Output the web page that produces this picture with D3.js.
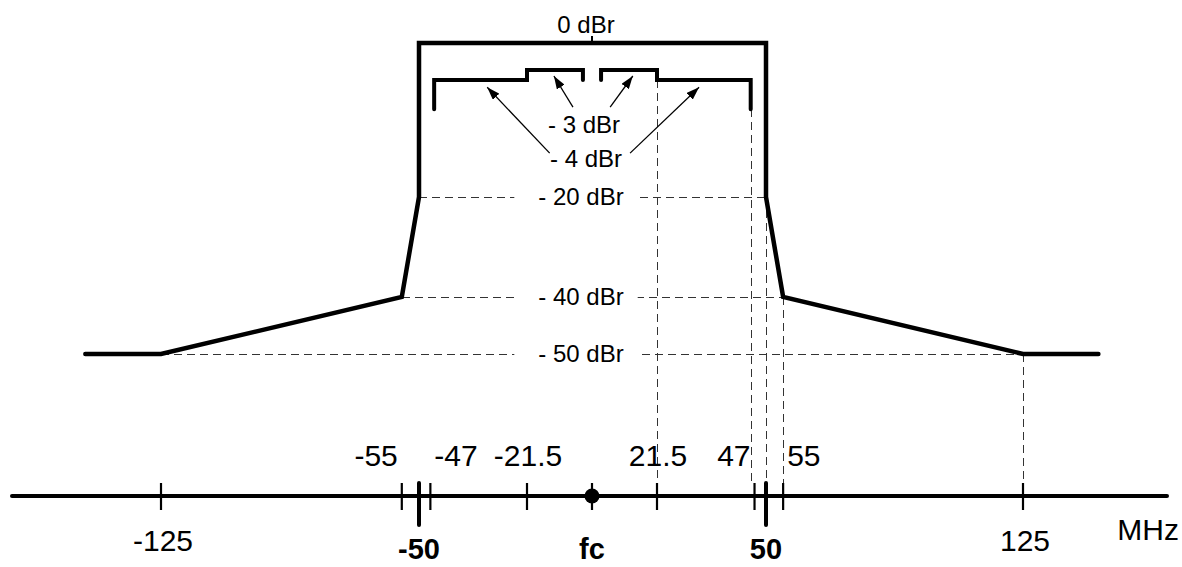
<!DOCTYPE html>
<html>
<head>
<meta charset="utf-8">
<script src="https://cdn.jsdelivr.net/npm/d3@7"></script>
<style>
  body { margin: 0; background: #fff; }
  svg { display: block; font-family: "Liberation Sans", Arial, sans-serif; }
</style>
</head>
<body>
<div id="chart"></div>
<script>
const width = 1182;
const height = 567;

// spectrum mask, [MHz, dBr]
const maskPoints = [[-147, -50], [-125, -50], [-55, -40], [-50, -20], [-50, 0],
  [50, 0], [50, -20], [55, -40], [125, -50], [147, -50]];
// inner flatness limits, [MHz, dBr]
const flatLeft = [[-46, -8], [-46, -4], [-21.5, -4], [-21.5, -3], [-3, -3], [-3, -4]];
const flatRight = [[3, -4], [3, -3], [21.5, -3], [21.5, -4], [46, -4], [46, -8]];

const levelLines = [
  { db: -20, from: -50, to: 50, label: "- 20 dBr" },
  { db: -40, from: -55, to: 55, label: "- 40 dBr" },
  { db: -50, from: -125, to: 125, label: "- 50 dBr" }
];
// dashed drops to the axis, [MHz, dBr]
const dropLines = [[21.5, -4], [46, -8], [50, -20], [55, -40], [125, -50]];

// arrows from labels to the limits, tail -> head in [MHz, dBr]
const arrows = [
  { from: [-14, -14], to: [-32, -5] },
  { from: [-6.3, -7.7], to: [-12.6, -3.6] },
  { from: [6, -7.7], to: [13.5, -3.6] },
  { from: [12.6, -14], to: [32.5, -5] }
];

const minorTicks = [-125, -55, -47, -21.5, 0, 21.5, 47, 55, 125];
const majorTicks = [-50, 50];
const topLabels = [[-55, "-55"], [-47, "-47"], [-21.5, "-21.5"], [21.5, "21.5"], [47, "47"], [55, "55"]];
const bottomLabels = [[-125, "-125"], [125, "125"]];
const boldLabels = [[-50, "-50"], [0, "fc"], [50, "50"]];

// schematic (not to scale) axes
const x = d3.scaleLinear()
  .domain([-125, -50, -21.5, 0, 21.5, 50, 125])
  .range([161, 419, 527, 592, 657, 766, 1023]);
const y = d3.scaleLinear()
  .domain([-50, -40, -20, -4, -3, 0])
  .range([354, 297, 197, 80, 70, 43]);

const axisY = 496;

const svg = d3.select("#chart")
  .append("svg")
  .attr("width", width)
  .attr("height", height);

svg.append("defs").append("marker")
  .attr("id", "head")
  .attr("markerUnits", "userSpaceOnUse")
  .attr("viewBox", "0 0 13 9")
  .attr("refX", 13)
  .attr("refY", 4.5)
  .attr("markerWidth", 13)
  .attr("markerHeight", 9)
  .attr("orient", "auto")
  .append("path")
  .attr("d", "M0,0L13,4.5L0,9Z")
  .attr("fill", "#000");

const line = d3.line().x(d => x(d[0])).y(d => y(d[1]));

// dashed reference lines
const dashed = svg.append("g")
  .attr("stroke", "#333")
  .attr("stroke-width", 1)
  .attr("stroke-dasharray", "8,5")
  .attr("shape-rendering", "crispEdges")
  .attr("fill", "none");

levelLines.forEach(d => {
  dashed.append("line")
    .attr("x1", x(d.from)).attr("x2", x(d.to))
    .attr("y1", y(d.db) + 0.5).attr("y2", y(d.db) + 0.5);
});

dropLines.forEach(d => {
  dashed.append("line")
    .attr("x1", x(d[0]) + 0.5).attr("x2", x(d[0]) + 0.5)
    .attr("y1", y(d[1])).attr("y2", axisY - 13);
});

// level labels with a white gap in the dashed line
levelLines.forEach(d => {
  const t = svg.append("text")
    .attr("x", x(0) - 11)
    .attr("y", y(d.db) + 8)
    .attr("text-anchor", "middle")
    .style("font-size", "24px")
    .text(d.label);
  const b = t.node().getBBox();
  svg.insert("rect", "text")
    .attr("x", b.x - 24)
    .attr("y", y(d.db) - 3)
    .attr("width", b.width + 38)
    .attr("height", 7)
    .attr("fill", "#fff");
});

// mask
svg.append("path")
  .datum(maskPoints)
  .attr("d", line)
  .attr("fill", "none")
  .attr("stroke", "#000")
  .attr("stroke-width", 4.5)
  .attr("stroke-linecap", "round");

svg.append("line")
  .attr("x1", x(0)).attr("x2", x(0))
  .attr("y1", y(0) - 7).attr("y2", y(0))
  .attr("stroke", "#000")
  .attr("stroke-width", 2);

[flatLeft, flatRight].forEach(pts => {
  svg.append("path")
    .datum(pts)
    .attr("d", line)
    .attr("fill", "none")
    .attr("stroke", "#000")
    .attr("stroke-width", 4)
    .attr("stroke-linecap", "round");
});

// annotation labels
svg.append("text")
  .attr("x", x(0) - 6)
  .attr("y", y(0) - 10)
  .attr("text-anchor", "middle")
  .style("font-size", "24px")
  .text("0 dBr");

svg.append("text")
  .attr("x", x(0) - 8)
  .attr("y", y(-8) + 24)
  .attr("text-anchor", "middle")
  .style("font-size", "24px")
  .text("- 3 dBr");

svg.append("text")
  .attr("x", x(0) - 6)
  .attr("y", y(-8) + 58)
  .attr("text-anchor", "middle")
  .style("font-size", "24px")
  .text("- 4 dBr");

svg.append("g")
  .selectAll("line")
  .data(arrows)
  .join("line")
  .attr("x1", d => x(d.from[0]))
  .attr("y1", d => y(d.from[1]))
  .attr("x2", d => x(d.to[0]))
  .attr("y2", d => y(d.to[1]))
  .attr("stroke", "#000")
  .attr("stroke-width", 1.3)
  .attr("marker-end", "url(#head)");

// frequency axis
svg.append("line")
  .attr("x1", 12).attr("x2", 1167)
  .attr("y1", axisY).attr("y2", axisY)
  .attr("stroke", "#000")
  .attr("stroke-width", 4)
  .attr("stroke-linecap", "round");

svg.append("g")
  .selectAll("line")
  .data(minorTicks)
  .join("line")
  .attr("x1", d => x(d)).attr("x2", d => x(d))
  .attr("y1", axisY - 13).attr("y2", axisY + 14)
  .attr("stroke", "#000")
  .attr("stroke-width", 2.2);

svg.append("g")
  .selectAll("line")
  .data(majorTicks)
  .join("line")
  .attr("x1", d => x(d)).attr("x2", d => x(d))
  .attr("y1", axisY - 13).attr("y2", axisY + 29)
  .attr("stroke", "#000")
  .attr("stroke-width", 4)
  .attr("stroke-linecap", "round");

svg.append("circle")
  .attr("cx", x(0))
  .attr("cy", axisY)
  .attr("r", 7.5)
  .attr("fill", "#000");

// labels above the axis sit away from the +-50 tick
const side = v => (Math.abs(v) > 50 ? Math.sign(v) : -Math.sign(v));

svg.append("g")
  .selectAll("text")
  .data(topLabels)
  .join("text")
  .attr("x", d => Math.abs(d[0]) < 30 ? x(d[0]) + 1 : x(d[0]) + side(d[0]) * 4)
  .attr("text-anchor", d => Math.abs(d[0]) < 30 ? "middle" : (side(d[0]) > 0 ? "start" : "end"))
  .attr("y", axisY - 30)
  .style("font-size", "30px")
  .text(d => d[1]);

svg.append("g")
  .selectAll("text")
  .data(bottomLabels)
  .join("text")
  .attr("x", d => x(d[0]) + 2)
  .attr("y", axisY + 55)
  .attr("text-anchor", "middle")
  .style("font-size", "30px")
  .text(d => d[1]);

svg.append("g")
  .selectAll("text")
  .data(boldLabels)
  .join("text")
  .attr("x", d => x(d[0]))
  .attr("y", axisY + 63)
  .attr("text-anchor", "middle")
  .style("font-size", "29px")
  .style("font-weight", "bold")
  .text(d => d[1]);

svg.append("text")
  .attr("x", 1179)
  .attr("y", axisY + 44)
  .attr("text-anchor", "end")
  .style("font-size", "30px")
  .text("MHz");
</script>
</body>
</html>
